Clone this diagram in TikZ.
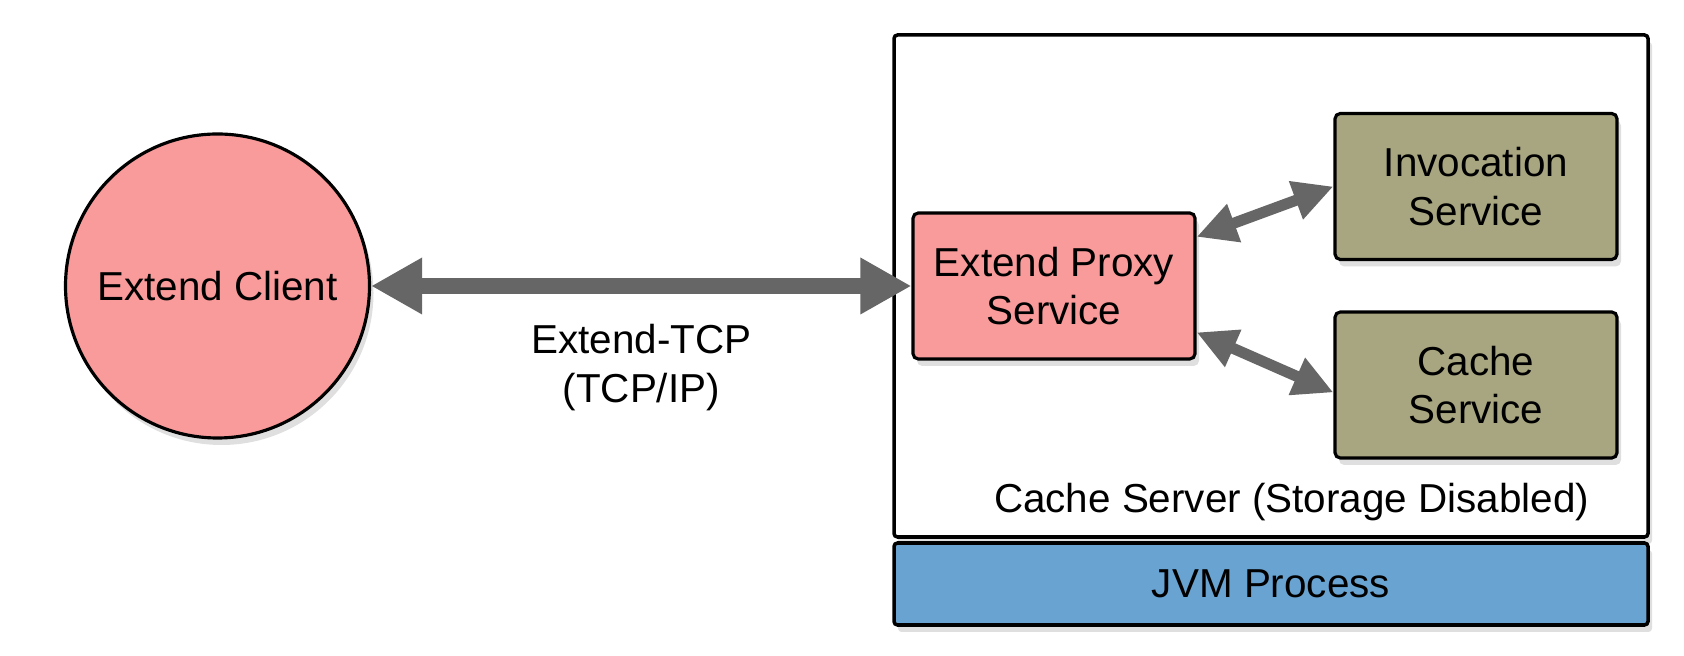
\documentclass[tikz,border=0pt]{standalone}
\usepackage{fontspec}
\setmainfont{Liberation Sans}
\usetikzlibrary{
  arrows.meta,
  positioning,
  shadows
}
\definecolor{ClientPink}{HTML}{F99A9B}
\definecolor{ServiceOlive}{HTML}{A8A680}
\definecolor{JvmBlue}{HTML}{68A3D1}
\definecolor{LinkGray}{HTML}{666666}

\begin{document}
\begin{tikzpicture}[
  font=\fontsize{11.5}{13.7}\selectfont,
  shade/.style={drop shadow={opacity=0.25,shadow xshift=0.04cm,shadow yshift=-0.07cm}},
  box/.style={
    draw=black,
    line width=0.9pt,
    rounded corners=1.5pt,
    align=center,
    minimum width=2.82cm,
    minimum height=1.46cm,
    shade
  },
  client/.style={circle,draw=black,line width=0.9pt,fill=ClientPink,minimum size=3.04cm,shade},
  proxy/.style={box,fill=ClientPink},
  service/.style={box,fill=ServiceOlive},
  container/.style={draw=black,line width=1pt,rounded corners=1pt,minimum width=7.54cm,shade},
  link/.style={{Triangle[length=0.51cm,width=0.53cm]}-{Triangle[length=0.51cm,width=0.53cm]},
    draw=LinkGray,line width=0.16cm},
  sublink/.style={{Triangle[length=0.40cm,width=0.38cm]}-{Triangle[length=0.40cm,width=0.38cm]},
    draw=LinkGray,line width=0.11cm}
]
\useasboundingbox (0,0) rectangle (16.84,6.56);

\node[container,fill=white,minimum height=5.02cm] (server) at (12.71,3.70) {};
\node[container,fill=JvmBlue,minimum height=0.82cm] (jvm) at (12.71,0.72) {JVM Process};
\node[anchor=base east,inner sep=0pt] (serverlabel) at (15.90,1.43)
  {Cache Server (Storage Disabled)};

\node[client] (client) at (2.175,3.70) {Extend Client};
\node[proxy] (proxy) at (10.54,3.70) {Extend Proxy\\Service};
\node[service] (invocation) at (14.76,4.695) {Invocation\\Service};
\node[service] (cache) at (14.76,2.71) {Cache\\Service};

\draw[link] (client) -- node[below=0.19cm,align=center] (protocol)
  {Extend-TCP\\(TCP/IP)} (proxy);
\draw[sublink] (proxy.19) -- (invocation.west);
\draw[sublink] (proxy.-18) -- (cache.183);
\end{tikzpicture}
\end{document}
